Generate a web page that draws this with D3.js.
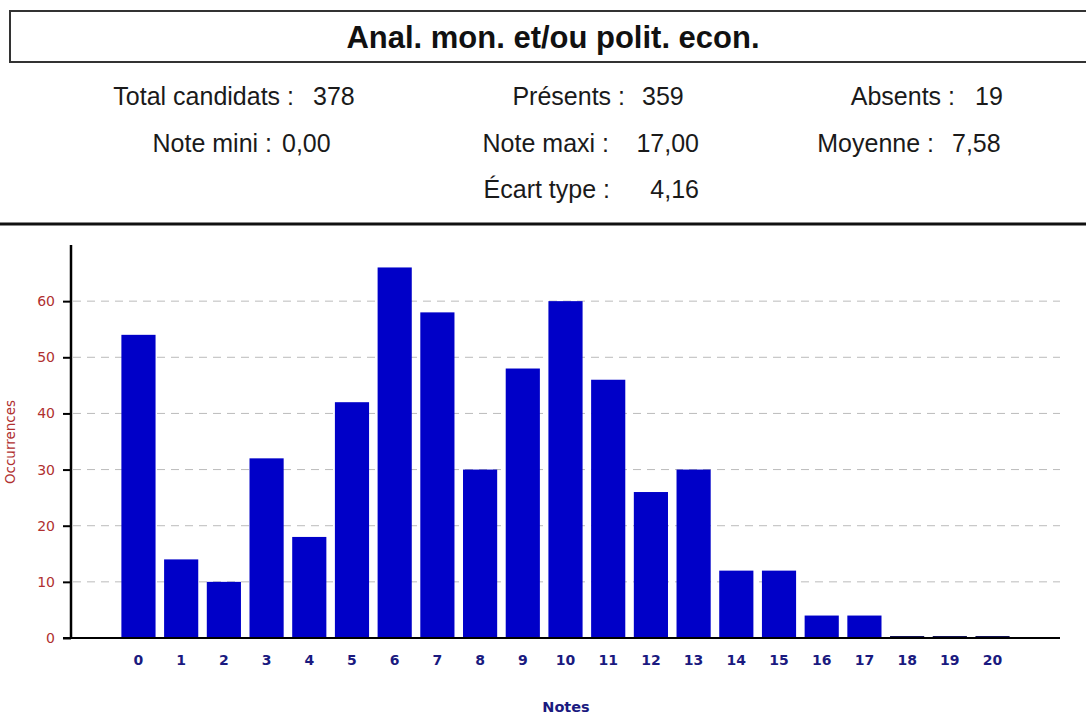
<!DOCTYPE html>
<html><head><meta charset="utf-8">
<script src="https://cdn.jsdelivr.net/npm/d3@7/dist/d3.min.js"></script>
<style>body{margin:0;background:#fff;} svg{display:block;}</style>
</head><body>
<script>
const title = "Anal. mon. et/ou polit. econ.";
const notes = ["0","1","2","3","4","5","6","7","8","9","10","11","12","13","14","15","16","17","18","19","20"];
const occurrences = [54,14,10,32,18,42,66,58,30,48,60,46,26,30,12,12,4,4,0,0,0];
const yTicks = [0,10,20,30,40,50,60];
const statLabels = ["Total candidats :","Présents :","Absents :","Note mini :","Note maxi :","Moyenne :","Écart type :"];
const statValues = ["378","359","19","0,00","17,00","7,58","4,16"];

const W = 1086, H = 716;
const svg = d3.select("body").append("svg").attr("width", W).attr("height", H);

// title box
svg.append("rect").attr("x", 10).attr("y", 11).attr("width", 1090).attr("height", 51)
  .attr("fill", "#fff").attr("stroke", "#333").attr("stroke-width", 2);
svg.append("text").attr("x", 553).attr("y", 48).attr("text-anchor", "middle")
  .attr("font-family", "Liberation Sans, Arial, sans-serif").attr("font-weight", "bold")
  .attr("font-size", 31).attr("fill", "#111")
  .attr("textLength", 413).attr("lengthAdjust", "spacingAndGlyphs").text(title);

// stats
const statPos = [
  {lx:294, vx:313, y:105, va:"start"},
  {lx:625, vx:642, y:105, va:"start"},
  {lx:955, vx:975, y:105, va:"start"},
  {lx:272, vx:282, y:152, va:"start"},
  {lx:609, vx:699, y:152, va:"end"},
  {lx:934, vx:952, y:152, va:"start"},
  {lx:610, vx:699, y:198, va:"end"}
];
const sf = "Liberation Sans, Arial, sans-serif";
statLabels.forEach((l, i) => {
  const p = statPos[i];
  svg.append("text").attr("x", p.lx).attr("y", p.y).attr("text-anchor", "end")
    .attr("font-family", sf).attr("font-size", 25).attr("fill", "#1a1a1a").text(l);
  svg.append("text").attr("x", p.vx).attr("y", p.y).attr("text-anchor", p.va)
    .attr("font-family", sf).attr("font-size", 25).attr("fill", "#1a1a1a").text(statValues[i]);
});

// separator
svg.append("line").attr("x1", 0).attr("x2", W).attr("y1", 224).attr("y2", 224)
  .attr("stroke", "#111").attr("stroke-width", 3);

// chart
const x0 = 71, x1 = 1060, yTop = 245, yBot = 638;
const x = d3.scaleBand().domain(notes).range([x0, x1]).paddingInner(0.2).paddingOuter(1.18);
const y = d3.scaleLinear().domain([0, 70]).range([yBot, yTop]);

// grid
svg.append("g").selectAll("line").data(yTicks).join("line")
  .attr("x1", x0 + 2).attr("x2", x1).attr("y1", d => y(d)).attr("y2", d => y(d))
  .attr("stroke", d => d === 0 ? "#555" : "#bbb").attr("stroke-width", 1)
  .attr("stroke-dasharray", "8,6");

// bars
svg.append("g").selectAll("rect").data(occurrences).join("rect")
  .attr("x", (d, i) => x(notes[i])).attr("width", x.bandwidth())
  .attr("y", d => d > 0 ? y(d) : y(0) - 2).attr("height", d => d > 0 ? y(0) - y(d) : 2)
  .attr("fill", d => d > 0 ? "#0000c8" : "#101050");

// y axis
const yAxis = d3.axisLeft(y).tickValues(yTicks).tickSize(8).tickPadding(8).tickFormat(d3.format("d"));
const gy = svg.append("g").attr("transform", `translate(${x0},0)`).call(yAxis);
gy.attr("font-size", 14);
gy.select(".domain").attr("d", `M0,${yTop}V${yBot}`).attr("stroke", "#000").attr("stroke-width", 2.5);
gy.selectAll(".tick line").attr("stroke", "#000").attr("stroke-width", 2);
gy.selectAll(".tick text").attr("font-family", "DejaVu Sans, sans-serif").attr("font-size", 14).attr("fill", "#b03030");

// x axis
const xAxis = d3.axisBottom(x).tickSize(0).tickPadding(17);
const gx = svg.append("g").attr("transform", `translate(0,${yBot})`).call(xAxis);
gx.attr("font-size", 14);
gx.select(".domain").attr("d", `M${x0 - 8},0H${x1}`).attr("stroke", "#000").attr("stroke-width", 2);
gx.selectAll(".tick text").attr("font-family", "DejaVu Sans, sans-serif").attr("font-weight", "bold")
  .attr("font-size", 14).attr("fill", "#1a1a80");

// axis titles
svg.append("text").attr("x", 566).attr("y", 712).attr("text-anchor", "middle")
  .attr("font-family", "DejaVu Sans, sans-serif").attr("font-weight", "bold").attr("font-size", 14.5)
  .attr("fill", "#1a1a80").text("Notes");
svg.append("text").attr("transform", "translate(15,442) rotate(-90)").attr("text-anchor", "middle")
  .attr("font-family", "DejaVu Sans, sans-serif").attr("font-size", 13.5).attr("fill", "#b03030").text("Occurrences");
</script>
</body></html>
